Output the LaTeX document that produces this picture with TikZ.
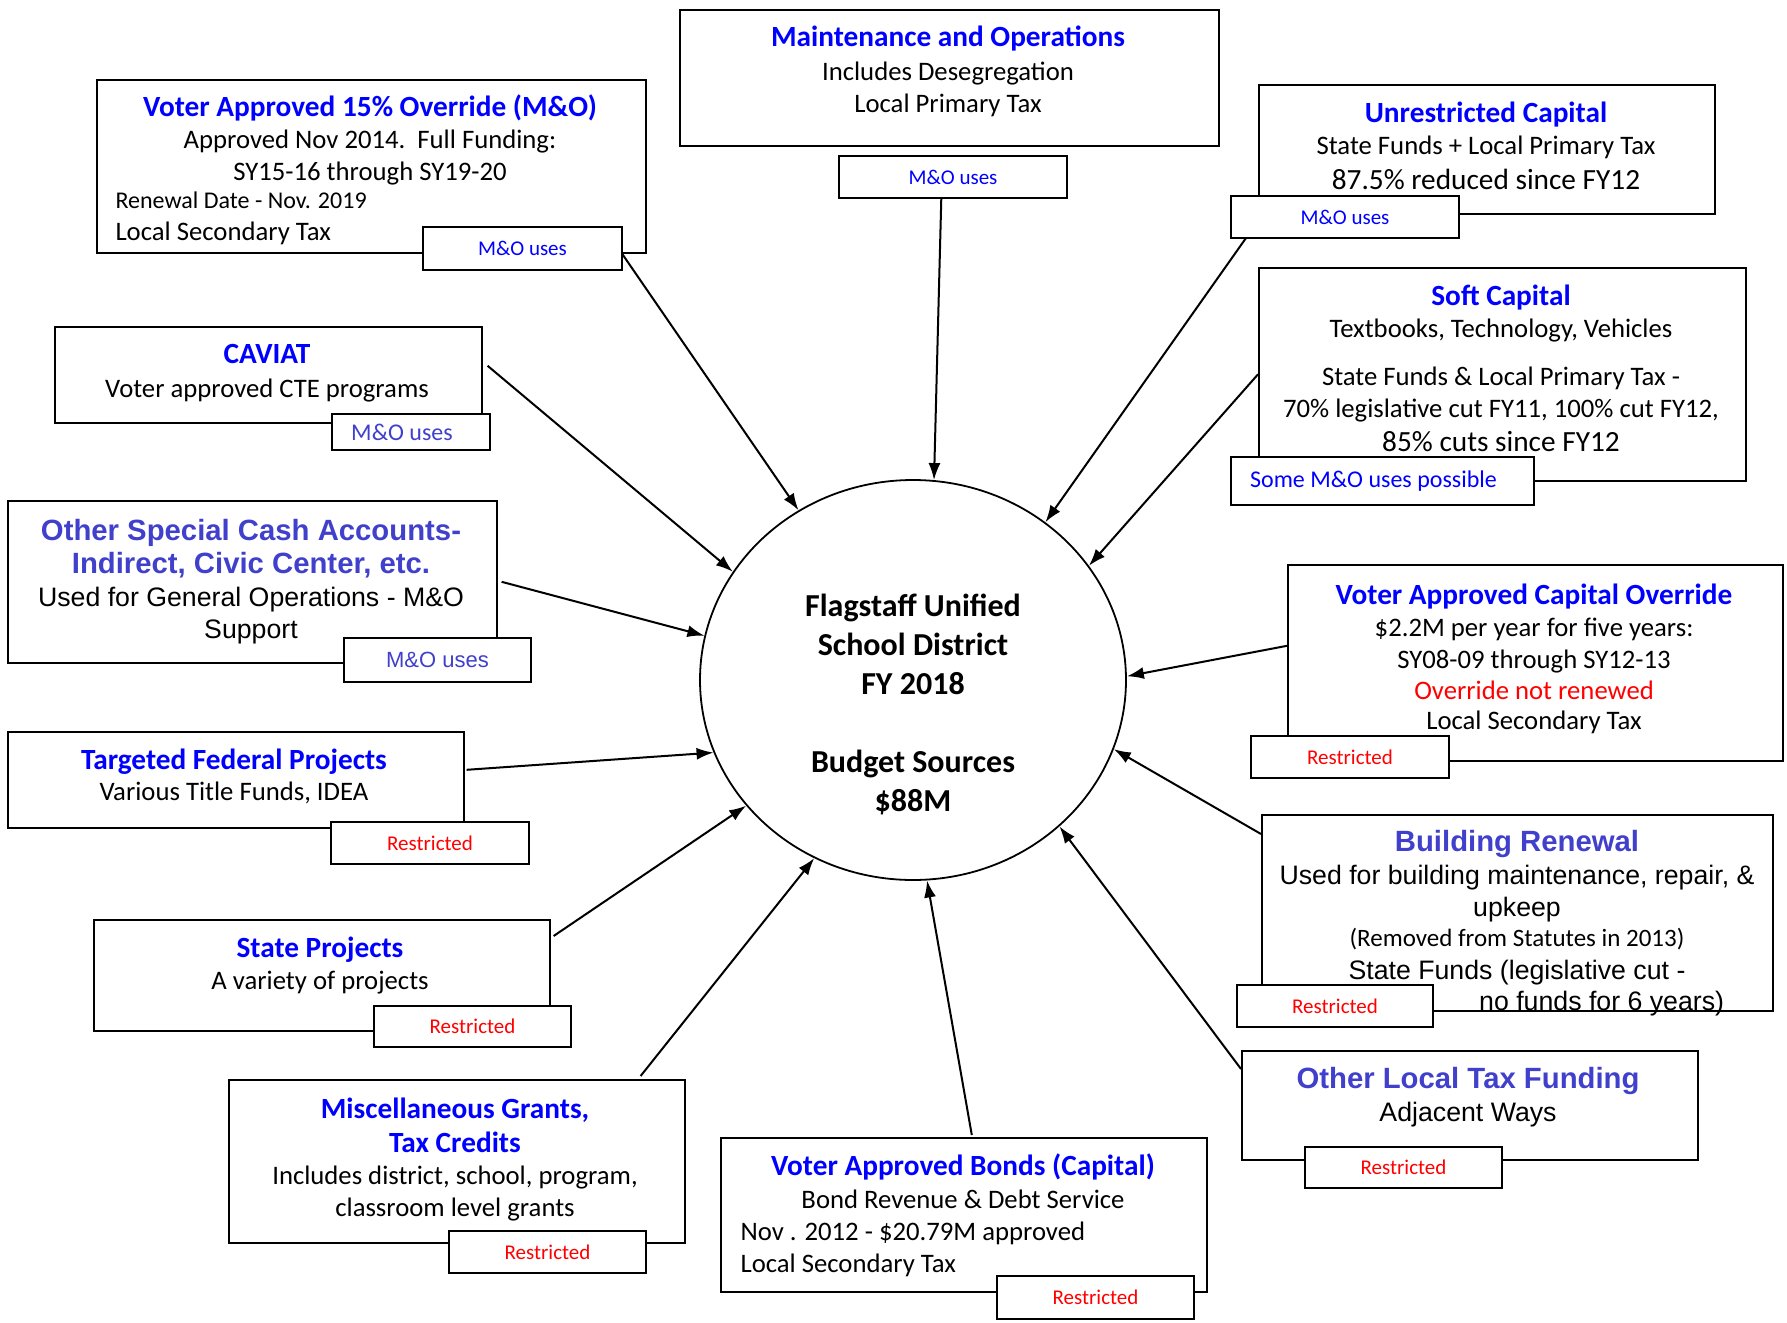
\documentclass[tikz,border=0pt]{standalone}
\usepackage{fontspec}
\setmainfont{Carlito}
\newfontfamily\arialfont{Liberation Sans}
\usetikzlibrary{shapes.geometric}
\usetikzlibrary{arrows.meta, positioning}
\definecolor{hdblue}{RGB}{0,0,255}
\definecolor{slate}{RGB}{64,64,204}
\definecolor{restred}{RGB}{255,0,0}
\newcommand{\hd}{\fontsize{29.3}{32}\selectfont\bfseries\color{hdblue}}
\newcommand{\hda}{\arialfont\fontsize{29.3}{32}\selectfont\bfseries\color{slate}}

\begin{document}
\begin{tikzpicture}[x=1pt, y=-1pt,
        fund/.style={draw, line width=1.6pt, anchor=north west, inner sep=0pt},
        tag/.style={draw, fill=white, line width=1.6pt, inner sep=0pt, font=\fontsize{21}{24}\selectfont},
        txt/.style={align=center, anchor=base, font=\fontsize{26.7}{32}\selectfont},
        txtl/.style={align=left, anchor=base west, font=\fontsize{26.7}{32}\selectfont},
        flow/.style={-{Latex[length=17pt, width=12pt]}, line width=2pt}
    ]
        \useasboundingbox (0,0) rectangle (1787,1322);

        % District circle
        \node[ellipse, draw, line width=1.8pt, minimum width=426, minimum height=400] (fusd) at (913,680) {};
        \node[txt, font=\fontsize{32}{39}\selectfont\bfseries] (fusd-t) at (913,811) {Flagstaff Unified\\School District\\FY 2018\\[39pt]Budget Sources\\\$88M};

        % Maintenance and Operations
        \node[fund, minimum width=539, minimum height=136] (mo) at (679,9) {};
        \node[txt] (mo-t) at (948,112) {{\hd Maintenance and Operations}\\[2pt] Includes Desegregation\\ Local Primary Tax};

        % Voter approved override
        \node[fund, minimum width=549, minimum height=173] (vao) at (96,79) {};
        \node[txt] (vao-t) at (370,180) {{\hd Voter Approved 15\% Override (M\&O)}\\ Approved Nov 2014.\ \ Full Funding:\\ SY15-16 through SY19-20};
        \node[txtl] (vao-l) at (112,240) {{\fontsize{24}{30}\selectfont Renewal Date - Nov. 2019}\\ Local Secondary Tax};

        % Unrestricted capital
        \node[fund, minimum width=456, minimum height=129] (uc) at (1258,84) {};
        \node[txt] (uc-t) at (1486,189) {{\hd Unrestricted Capital}\\ State Funds + Local Primary Tax\\[3pt] {\fontsize{29.3}{32}\selectfont 87.5\% reduced since FY12}};

        % Soft capital
        \node[fund, minimum width=487, minimum height=213] (sc) at (1258,267) {};
        \node[txt] (sc-t) at (1501,451) {{\hd Soft Capital}\\ Textbooks, Technology, Vehicles\\[16pt] State Funds \& Local Primary Tax -\\ 70\% legislative cut FY11, 100\% cut FY12,\\[2pt] {\fontsize{29.3}{32}\selectfont 85\% cuts since FY12}};

        % CAVIAT
        \node[fund, minimum width=427, minimum height=96] (cav) at (54,326) {};
        \node[txt] (cav-t) at (267,397) {{\hd CAVIAT}\\[2pt] Voter approved CTE programs};

        % Other special cash accounts
        \node[fund, minimum width=489, minimum height=162] (osca) at (7,500) {};
        \node[txt, font=\arialfont\fontsize{26.7}{33}\selectfont] (osca-t) at (251,638) {{\hda Other Special Cash Accounts-}\\ {\hda Indirect, Civic Center, etc.}\\ Used for General Operations - M\&O\\[-1pt] Support};

        % Targeted federal projects
        \node[fund, minimum width=456, minimum height=96] (tfp) at (7,731) {};
        \node[txt] (tfp-t) at (234,800) {{\hd Targeted Federal Projects}\\[-1pt] Various Title Funds, IDEA};

        % State projects
        \node[fund, minimum width=456, minimum height=111] (sp) at (93,919) {};
        \node[txt] (sp-t) at (320,989) {{\hd State Projects}\\ A variety of projects};

        % Miscellaneous grants
        \node[fund, minimum width=456, minimum height=163] (mg) at (228,1079) {};
        \node[txt] (mg-t) at (455,1216) {{\hd Miscellaneous Grants,}\\[2pt] {\hd Tax Credits}\\ Includes district, school, program,\\ classroom level grants};

        % Voter approved bonds
        \node[fund, minimum width=486, minimum height=154] (vab) at (720,1137) {};
        \node[txt] (vab-t) at (963,1208) {{\hd Voter Approved Bonds (Capital)}\\[1pt] Bond Revenue \& Debt Service};
        \node[txtl] (vab-l) at (737,1272) {Nov . 2012 - \$20.79M approved\\ Local Secondary Tax};

        % Voter approved capital override
        \node[fund, minimum width=495, minimum height=196] (vaco) at (1287,564) {};
        \node[txt] (vaco-t) at (1534,729) {{\hd Voter Approved Capital Override}\\ \$2.2M per year for five years:\\ SY08-09 through SY12-13\\[-1pt] {\color{restred}Override not renewed}\\[-2pt] Local Secondary Tax};

        % Building renewal
        \node[fund, minimum width=511, minimum height=196] (br) at (1261,814) {};
        \node[txt, font=\arialfont\fontsize{26.7}{32}\selectfont] (br-t) at (1517,979) {{\hda Building Renewal}\\[1pt] Used for building maintenance, repair, \&\\ upkeep\\[-2pt] {\normalfont\fontsize{25}{28}\selectfont (Removed from Statutes in 2013)}\\[1pt] State Funds (legislative cut -};
        \node[anchor=base west, inner sep=0pt, font=\arialfont\fontsize{26.7}{32}\selectfont] (br-l) at (1479,1010) {no funds for 6 years)};

        % Other local tax funding
        \node[fund, minimum width=456, minimum height=109] (olt) at (1241,1050) {};
        \node[txt, font=\arialfont\fontsize{26.7}{32}\selectfont] (olt-t) at (1468,1121) {{\hda Other Local Tax Funding}\\[1pt] Adjacent Ways};

        % Flows into the district
        \draw[flow] (vao.south -| 622,0) -- (fusd.124);
        \draw[flow] ([xshift=-8pt]mo.south |- 0,198) -- (fusd.84);
        \draw[flow] (1246,238) -- (fusd.50);
        \draw[flow] (sc.west) -- (fusd.33);
        \draw[flow] ([xshift=5pt,yshift=9pt]cav.east) -- (fusd.149);
        \draw[flow] ([xshift=4pt]osca.east) -- (fusd.168);
        \draw[flow] ([xshift=2pt,yshift=10pt]tfp.east) -- (fusd.200);
        \draw[flow] ([xshift=3pt,yshift=-17pt]sp.north east) -- (fusd.217);
        \draw[flow] ([xshift=-45pt,yshift=3pt]mg.north east) -- (fusd.241);
        \draw[flow] ([xshift=8pt,yshift=2pt]vab.north) -- (fusd.274);
        \draw[flow] ([yshift=-19pt]olt.north west) -- (fusd.315);
        \draw[flow] ([yshift=-20pt]br.north west) -- (fusd.341);
        \draw[flow] ([yshift=17pt]vaco.west) -- (fusd.1);

        % Use tags
        \node[tag, minimum width=228, minimum height=42, text=hdblue] (motag) at (953,177) {M\&O uses};
        \node[tag, minimum width=199, minimum height=43, text=hdblue] (vaotag) at (522.5,248.5) {M\&O uses};
        \node[tag, minimum width=228, minimum height=42, text=hdblue] (uctag) at (1345,217) {M\&O uses};
        \node[tag, minimum width=303, minimum height=48, text=hdblue, font=\fontsize{24}{28}\selectfont] (sctag) at (1382.5,481) {Some M\&O uses possible\kern18pt};
        \node[tag, minimum width=158, minimum height=36, text=slate, font=\fontsize{24}{28}\selectfont] (cavtag) at (411,432) {M\&O uses\kern18pt};
        \node[tag, minimum width=187, minimum height=44, text=slate, font=\arialfont\fontsize{22}{26}\selectfont] (oscatag) at (437.5,660) {M\&O uses};
        \node[tag, minimum width=198, minimum height=42, text=restred] (tfptag) at (430,843) {Restricted};
        \node[tag, minimum width=197, minimum height=41, text=restred] (sptag) at (472.5,1026.5) {Restricted};
        \node[tag, minimum width=197, minimum height=42, text=restred] (mgtag) at (547.5,1252) {Restricted};
        \node[tag, minimum width=197, minimum height=43, text=restred] (vabtag) at (1095.5,1297.5) {Restricted};
        \node[tag, minimum width=198, minimum height=42, text=restred] (vacotag) at (1350,757) {Restricted};
        \node[tag, minimum width=196, minimum height=42, text=restred] (brtag) at (1335,1006) {Restricted};
        \node[tag, minimum width=197, minimum height=41, text=restred] (olttag) at (1403.5,1167.5) {Restricted};
    \end{tikzpicture}
\end{document}
